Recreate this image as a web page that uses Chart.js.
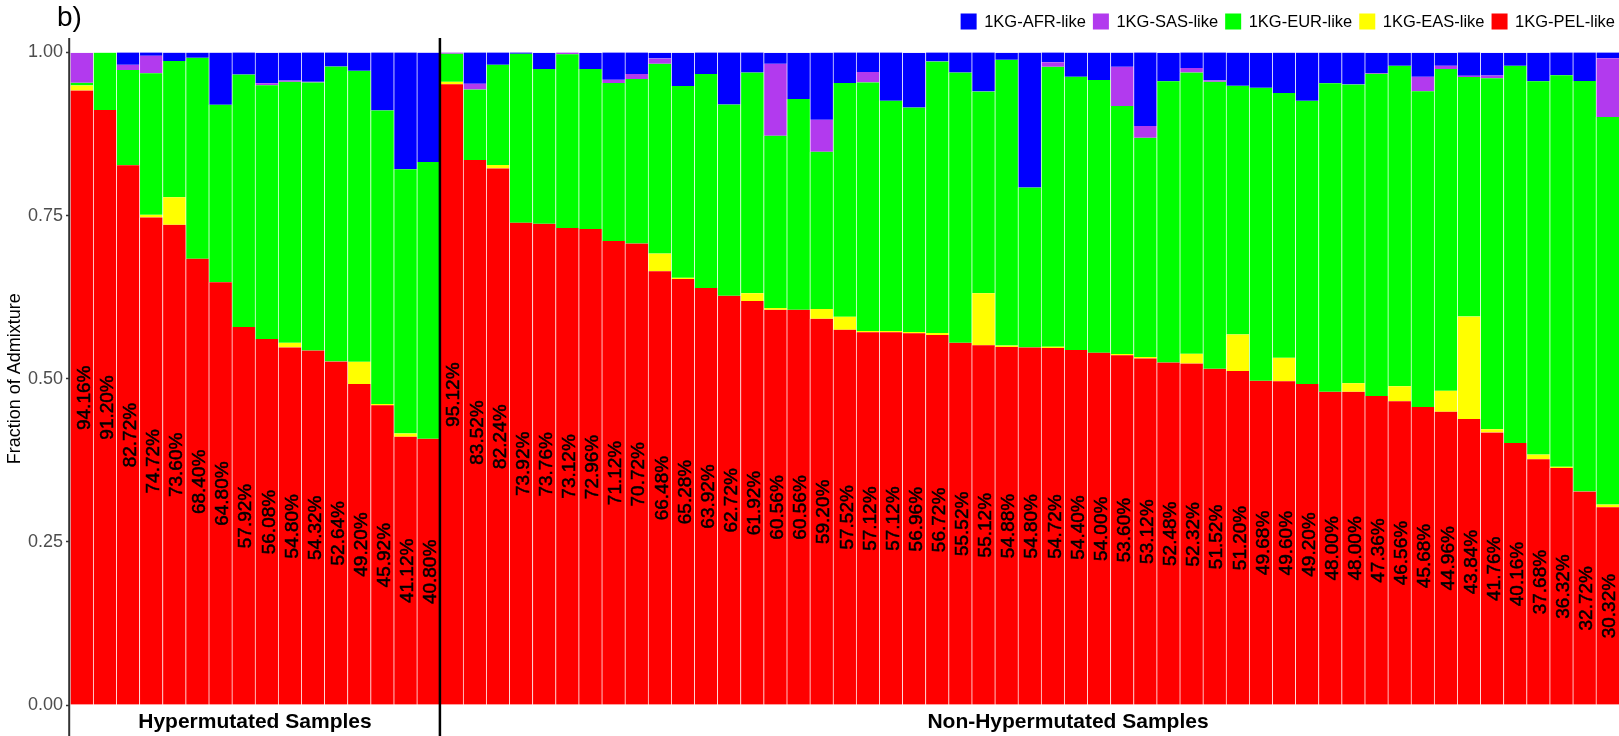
<!DOCTYPE html>
<html>
<head>
<meta charset="utf-8">
<script src="https://cdn.jsdelivr.net/npm/chart.js@4.4.1/dist/chart.umd.min.js"></script>
<style>
html,body{margin:0;padding:0;background:#fff;}
#wrap{position:relative;width:1619px;height:736px;}
</style>
</head>
<body>
<div id="wrap"><canvas id="c"></canvas></div>
<script>
// ---- data (fractions of admixture) ----
const groupNames = ['Hypermutated Samples', 'Non-Hypermutated Samples'];
const seriesNames = ['1KG-AFR-like', '1KG-SAS-like', '1KG-EUR-like', '1KG-EAS-like', '1KG-PEL-like'];
const seriesColors = ['#0000FF', '#B23AEE', '#00FF00', '#FFFF00', '#FF0000'];
const yTicks = [0, 0.25, 0.5, 0.75, 1];

const pelHyper = [0.9416, 0.9120, 0.8272, 0.7472, 0.7360, 0.6840, 0.6480, 0.5792, 0.5608, 0.5480, 0.5432, 0.5264, 0.4920, 0.4592, 0.4112, 0.4080];
const easHyper = [0.008, 0, 0, 0.004, 0.042, 0, 0, 0, 0, 0.007, 0, 0, 0.034, 0.002, 0.005, 0];
const eurHyper = [0.004, 0.088, 0.146, 0.217, 0.209, 0.308, 0.272, 0.387, 0.389, 0.400, 0.411, 0.452, 0.446, 0.450, 0.405, 0.424];
const sasHyper = [0.046, 0, 0.008, 0.027, 0, 0, 0, 0, 0.003, 0.002, 0.001, 0, 0, 0, 0, 0];
const afrHyper = [0, 0, 0.019, 0.005, 0.013, 0.008, 0.080, 0.034, 0.047, 0.043, 0.045, 0.022, 0.028, 0.089, 0.179, 0.168];

const pelNon = [0.9512, 0.8352, 0.8224, 0.7392, 0.7376, 0.7312, 0.7296, 0.7112, 0.7072, 0.6648, 0.6528, 0.6392, 0.6272, 0.6192, 0.6056, 0.6056, 0.5920, 0.5752, 0.5712, 0.5712, 0.5696, 0.5672, 0.5552, 0.5512, 0.5488, 0.5480, 0.5472, 0.5440, 0.5400, 0.5360, 0.5312, 0.5248, 0.5232, 0.5152, 0.5120, 0.4968, 0.4960, 0.4920, 0.4800, 0.4800, 0.4736, 0.4656, 0.4568, 0.4496, 0.4384, 0.4176, 0.4016, 0.3768, 0.3632, 0.3272, 0.3032];
const easNon = [0.004, 0, 0.005, 0, 0, 0, 0, 0, 0, 0.027, 0.002, 0, 0, 0.012, 0.003, 0, 0.015, 0.020, 0.002, 0.002, 0.002, 0.003, 0, 0.080, 0.002, 0, 0.002, 0, 0, 0.002, 0.002, 0, 0.015, 0, 0.056, 0, 0.036, 0, 0, 0.013, 0, 0.023, 0, 0.032, 0.157, 0.005, 0, 0.007, 0.002, 0, 0.004];
const eurNon = [0.043, 0.108, 0.154, 0.259, 0.237, 0.266, 0.245, 0.242, 0.252, 0.291, 0.294, 0.328, 0.293, 0.338, 0.264, 0.323, 0.241, 0.358, 0.381, 0.353, 0.344, 0.416, 0.414, 0.309, 0.438, 0.245, 0.429, 0.419, 0.418, 0.380, 0.336, 0.431, 0.431, 0.440, 0.381, 0.449, 0.406, 0.434, 0.473, 0.458, 0.494, 0.491, 0.484, 0.493, 0.367, 0.538, 0.578, 0.572, 0.600, 0.629, 0.594];
const sasNon = [0.002, 0.009, 0, 0, 0, 0.003, 0, 0.005, 0.008, 0.008, 0, 0, 0, 0, 0.110, 0, 0.049, 0, 0.016, 0, 0, 0, 0, 0, 0, 0, 0.007, 0, 0, 0.060, 0.018, 0, 0.007, 0.002, 0, 0, 0, 0, 0, 0, 0.001, 0, 0.022, 0.005, 0.002, 0.004, 0, 0, 0, 0, 0.090];
const afrNon = [0, 0.048, 0.019, 0.002, 0.025, 0, 0.025, 0.042, 0.033, 0.009, 0.051, 0.033, 0.080, 0.031, 0.017, 0.071, 0.103, 0.047, 0.030, 0.074, 0.084, 0.014, 0.031, 0.060, 0.011, 0.207, 0.015, 0.037, 0.042, 0.022, 0.113, 0.044, 0.024, 0.043, 0.051, 0.054, 0.062, 0.074, 0.047, 0.049, 0.031, 0.020, 0.037, 0.020, 0.036, 0.035, 0.020, 0.044, 0.035, 0.044, 0.009];

const hyperSamples = pelHyper.map((_, i) => 'H' + (i + 1));
const nonSamples = pelNon.map((_, i) => 'N' + (i + 1));
const categories = hyperSamples.concat(nonSamples);

const pel = pelHyper.concat(pelNon);
const eas = easHyper.concat(easNon);
const eur = eurHyper.concat(eurNon);
const sas = sasHyper.concat(sasNon);
const afr = afrHyper.concat(afrNon);

const FONT = '"Liberation Sans", Arial, Helvetica, sans-serif';
Chart.defaults.font.family = FONT;

const barBorder = 'rgba(255,255,255,0.32)';
function ds(label, data, color) {
  return {
    label, data, backgroundColor: color,
    borderColor: barBorder,
    borderWidth: {left: 1, right: 0, top: 0, bottom: 0},
    borderSkipped: false,
    barPercentage: 1, categoryPercentage: 1
  };
}

// stack order bottom -> top: PEL, EAS, EUR, SAS, AFR
const datasets = [
  ds(seriesNames[4], pel, seriesColors[4]),
  ds(seriesNames[3], eas, seriesColors[3]),
  ds(seriesNames[2], eur, seriesColors[2]),
  ds(seriesNames[1], sas, seriesColors[1]),
  ds(seriesNames[0], afr, seriesColors[0])
];

const overlay = {
  id: 'overlay',
  afterDatasetsDraw(chart) {
    const {ctx, scales: {x, y}} = chart;
    ctx.save();
    ctx.fillStyle = '#000';
    ctx.strokeStyle = '#000';
    ctx.lineWidth = 0.5;
    ctx.font = '19px ' + FONT;
    ctx.textAlign = 'center';
    ctx.textBaseline = 'alphabetic';
    pel.forEach((v, i) => {
      const px = x.getPixelForValue(i);
      const py = y.getPixelForValue(v / 2);
      const t = (v * 100).toFixed(2) + '%';
      ctx.save();
      ctx.translate(px, py);
      ctx.rotate(-Math.PI / 2);
      ctx.fillText(t, 0, 8);
      ctx.strokeText(t, 0, 8);
      ctx.restore();
    });
    ctx.restore();
  },
  afterDraw(chart) {
    const {ctx, chartArea, scales: {x}} = chart;
    const H = chart.height;
    ctx.save();
    // left axis line
    ctx.strokeStyle = '#333';
    ctx.lineWidth = 2;
    ctx.beginPath();
    ctx.moveTo(chartArea.left - 0.8, 38);
    ctx.lineTo(chartArea.left - 0.8, H);
    ctx.stroke();
    // facet separator
    const nH = hyperSamples.length;
    const sepX = (x.getPixelForValue(nH - 1) + x.getPixelForValue(nH)) / 2;
    ctx.strokeStyle = '#000';
    ctx.lineWidth = 2.5;
    ctx.beginPath();
    ctx.moveTo(sepX, 38);
    ctx.lineTo(sepX, H);
    ctx.stroke();
    // strip labels
    ctx.fillStyle = '#000';
    ctx.font = 'bold 21px ' + FONT;
    ctx.textAlign = 'center';
    ctx.textBaseline = 'alphabetic';
    ctx.fillText(groupNames[0], (chartArea.left + sepX) / 2, 728);
    ctx.fillText(groupNames[1], 1068, 728);
    // panel tag
    ctx.font = '28px ' + FONT;
    ctx.textAlign = 'left';
    ctx.fillText('b)', 57, 26);
    // legend
    ctx.font = '16.5px ' + FONT;
    ctx.textBaseline = 'middle';
    const box = 16, gapText = 7.5, gapItem = 7;
    const widths = seriesNames.map(s => ctx.measureText(s).width);
    let total = widths.reduce((a, w) => a + box + gapText + w, 0) + gapItem * (seriesNames.length - 1);
    let cx = 1615 - total;
    seriesNames.forEach((s, i) => {
      ctx.fillStyle = seriesColors[i];
      ctx.fillRect(cx, 13.5, box, box);
      ctx.fillStyle = '#000';
      ctx.fillText(s, cx + box + gapText, 22);
      cx += box + gapText + widths[i] + gapItem;
    });
    ctx.restore();
  }
};

new Chart(document.getElementById('c'), {
  type: 'bar',
  data: {labels: categories, datasets},
  options: {
    responsive: true,
    maintainAspectRatio: false,
    animation: false,
    devicePixelRatio: 1,
    layout: {padding: {top: 52.5, left: 0, right: 0, bottom: 31}},
    plugins: {legend: {display: false}, tooltip: {enabled: false}},
    scales: {
      x: {stacked: true, display: false, offset: true},
      y: {
        stacked: true,
        min: 0, max: 1,
        afterFit(scale) { scale.width = 70; },
        afterBuildTicks(scale) { scale.ticks = yTicks.map(v => ({value: v})); },
        border: {display: false},
        grid: {drawOnChartArea: false, drawTicks: true, tickLength: 4, tickColor: '#333', tickWidth: 1.5},
        ticks: {padding: 3, color: '#4d4d4d', font: {size: 18}, callback: v => Number(v).toFixed(2)},
        title: {display: true, text: 'Fraction of Admixture', color: '#000', font: {size: 18}, padding: {top: 4, bottom: 0}}
      }
    }
  },
  plugins: [overlay]
});
</script>
</body>
</html>
